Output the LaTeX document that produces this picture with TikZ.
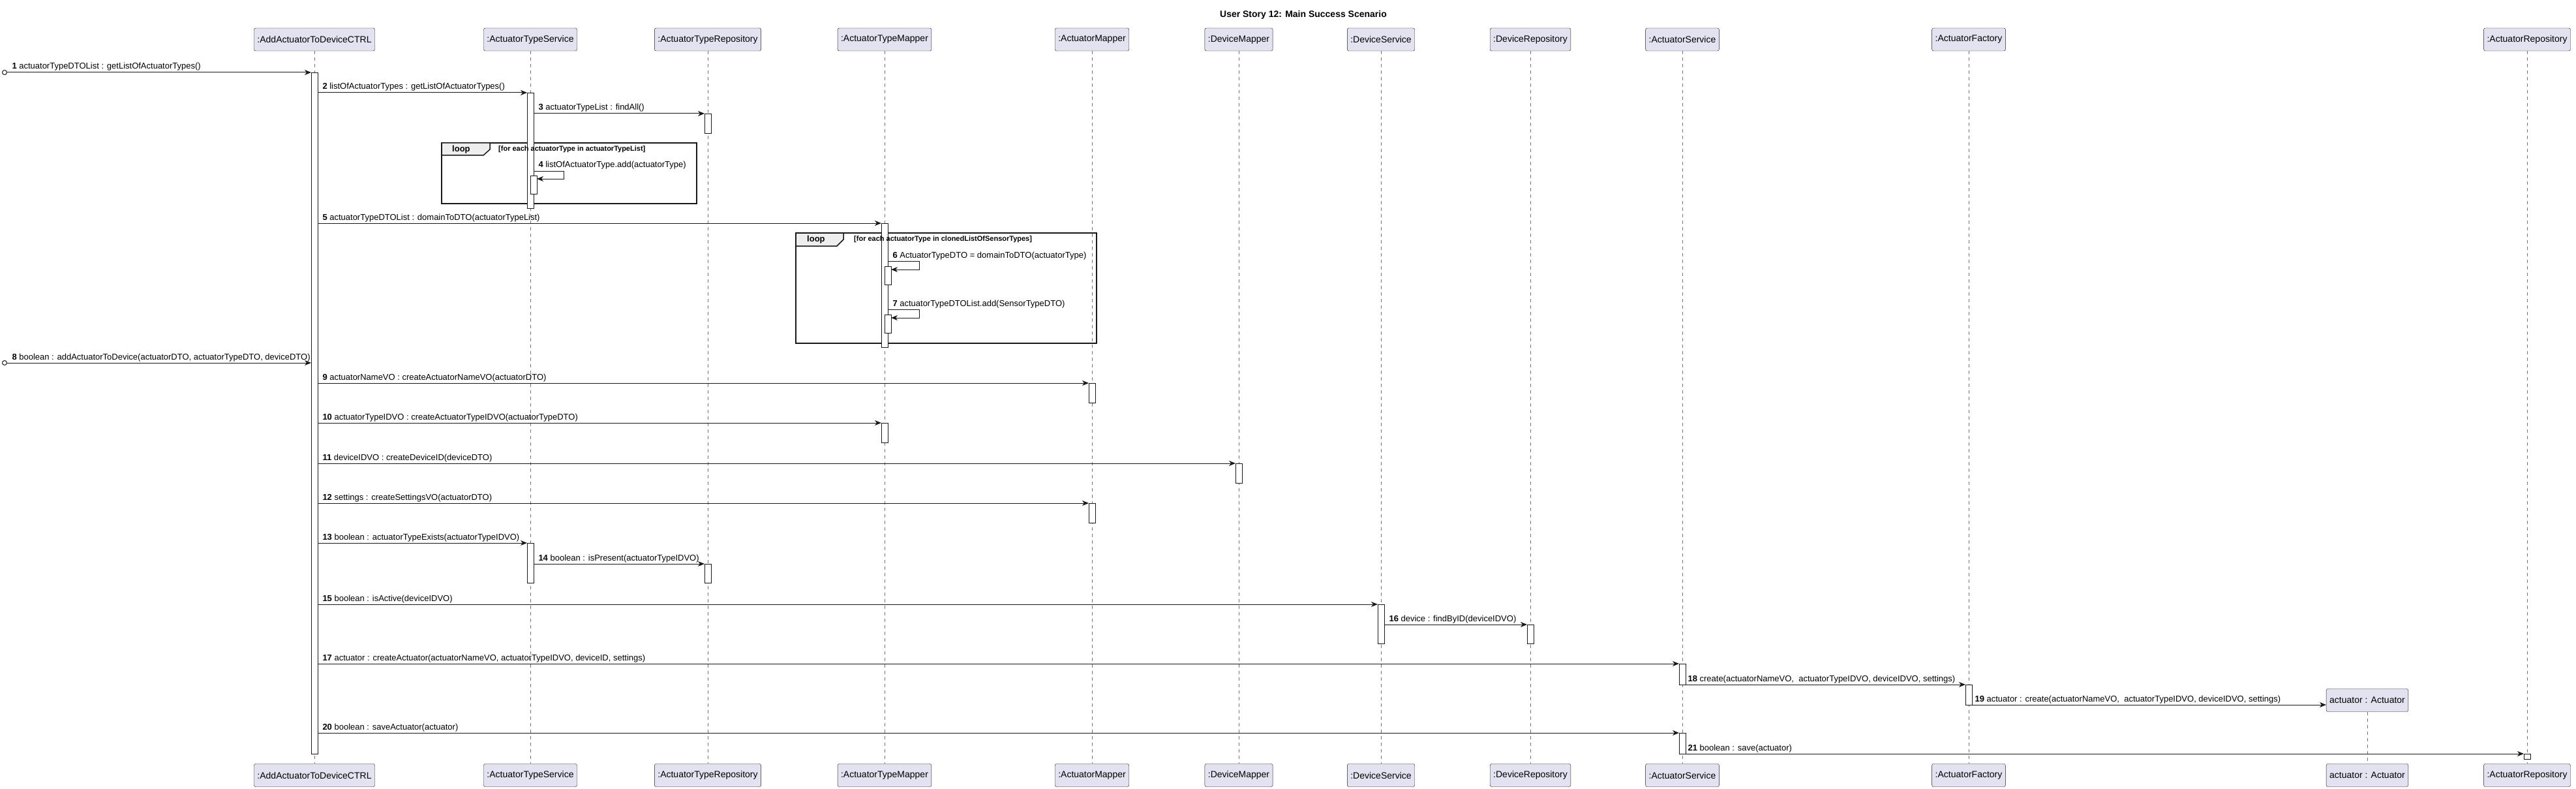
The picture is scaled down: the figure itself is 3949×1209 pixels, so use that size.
\documentclass[tikz,border=0pt]{standalone}
\usepackage{fontspec}
\setmainfont{Liberation Sans}
\usetikzlibrary{arrows.meta}
\definecolor{partfill}{HTML}{E2E2F0}
\definecolor{partline}{HTML}{181818}
\definecolor{tabfill}{HTML}{EEEEEE}
\newcommand{\actbox}[4]{\node at (#2,{(#3+#4)/2}) [act,minimum height={#4-#3}] (#1) {};}

\begin{document}
\begin{tikzpicture}[x=1pt,y=-1pt,
  part/.style={draw=partline,fill=partfill,rounded corners=2.5pt,minimum height=35pt,inner xsep=5pt,font=\fontsize{14}{16}\selectfont},
  life/.style={draw=partline!60,dash pattern=on 5pt off 5pt,line width=0.6pt},
  act/.style={draw=partline,fill=white,minimum width=10pt,inner sep=0pt,outer sep=0pt},
  msg/.style={draw=partline,line width=1pt,-{Stealth[length=10pt,width=8pt,inset=3pt]}},
  lbl/.style={anchor=base west,xshift=7pt,yshift=5pt,inner sep=0pt,font=\fontsize{13}{15}\selectfont},
  found/.style={draw=partline,circle,inner sep=0pt,minimum size=7pt,line width=1pt},
  frame/.style={draw=partline,line width=1.5pt},
  kw/.style={anchor=west,inner sep=0pt,font=\bfseries\fontsize{13}{15}\selectfont},
  guard/.style={anchor=west,inner sep=0pt,font=\bfseries\fontsize{11}{13}\selectfont}]
  \useasboundingbox (0,0) rectangle (3949,1209);

  \node at (1998,23) [font=\bfseries\fontsize{14}{16}\selectfont] (title) {User Story 12: Main Success Scenario};

  \node at (482,60.5) [part] (ctrlT) {:AddActuatorToDeviceCTRL};
  \node at (813,60.5) [part] (atsT) {:ActuatorTypeService};
  \node at (1085,60.5) [part] (atrT) {:ActuatorTypeRepository};
  \node at (1356,60.5) [part] (atmT) {:ActuatorTypeMapper};
  \node at (1674,60.5) [part] (amT) {:ActuatorMapper};
  \node at (1899,60.5) [part] (dmT) {:DeviceMapper};
  \node at (2117,60.5) [part] (dsT) {:DeviceService};
  \node at (2346,60.5) [part] (drT) {:DeviceRepository};
  \node at (2579,60.5) [part] (asT) {:ActuatorService};
  \node at (3018,60.5) [part] (afT) {:ActuatorFactory};
  \node at (3629,1073) [part] (actT) {actuator : Actuator};
  \node at (3874,60.5) [part] (arT) {:ActuatorRepository};

  \node at (482,1188) [part] (ctrlB) {:AddActuatorToDeviceCTRL};
  \node at (813,1188) [part] (atsB) {:ActuatorTypeService};
  \node at (1085,1188) [part] (atrB) {:ActuatorTypeRepository};
  \node at (1356,1188) [part] (atmB) {:ActuatorTypeMapper};
  \node at (1674,1188) [part] (amB) {:ActuatorMapper};
  \node at (1899,1188) [part] (dmB) {:DeviceMapper};
  \node at (2117,1188) [part] (dsB) {:DeviceService};
  \node at (2346,1188) [part] (drB) {:DeviceRepository};
  \node at (2579,1188) [part] (asB) {:ActuatorService};
  \node at (3018,1188) [part] (afB) {:ActuatorFactory};
  \node at (3629,1188) [part] (actB) {actuator : Actuator};
  \node at (3874,1188) [part] (arB) {:ActuatorRepository};

  \draw[life] (ctrlT) -- (ctrlB);
  \draw[life] (atsT) -- (atsB);
  \draw[life] (atrT) -- (atrB);
  \draw[life] (atmT) -- (atmB);
  \draw[life] (amT) -- (amB);
  \draw[life] (dmT) -- (dmB);
  \draw[life] (dsT) -- (dsB);
  \draw[life] (drT) -- (drB);
  \draw[life] (asT) -- (asB);
  \draw[life] (afT) -- (afB);
  \draw[life] (actT) -- (actB);
  \draw[life] (arT) -- (arB);

  \draw[frame] (677,219) rectangle (1068,312);
  \draw[frame,fill=tabfill] (677,219) -- (751,219) -- (751,229) -- (741,238) -- (677,238) -- cycle;
  \node at (693,229) [kw] (loopA) {loop};

  \draw[frame] (1220,357) rectangle (1681,526);
  \draw[frame,fill=tabfill] (1220,357) -- (1293,357) -- (1293,367) -- (1283,377) -- (1220,377) -- cycle;
  \node at (1237,367) [kw] (loopB) {loop};

  \actbox{aCtrl}{482}{111}{1155}
  \actbox{aAts}{813}{142}{319}
  \actbox{aAtr}{1085}{174}{204}
  \actbox{aAtsIn}{818}{269}{297}
  \actbox{aAtm}{1356}{342}{532}
  \actbox{aAtmA}{1361}{408}{436}
  \actbox{aAtmB}{1361}{482}{510}
  \actbox{aAmA}{1674}{587}{617}
  \actbox{aAtmC}{1356}{648}{678}
  \actbox{aDm}{1899}{710}{740}
  \actbox{aAmB}{1674}{771}{801}
  \actbox{aAtsB}{813}{832}{893}
  \actbox{aAtrB}{1085}{864}{893}
  \actbox{aDs}{2117}{926}{986}
  \actbox{aDr}{2346}{957}{986}
  \actbox{aAsA}{2579}{1017}{1049}
  \actbox{aAf}{3018}{1049}{1080}
  \actbox{aAsB}{2579}{1123}{1155}
  \actbox{aAr}{3874}{1155}{1163}

  \node at (764,229) [guard] (guardA) {[for each actuatorType in actuatorTypeList]};
  \node at (1309,367) [guard] (guardB) {[for each actuatorType in clonedListOfSensorTypes]};

  \node at (7,111) [found] (f1) {};
  \node at (7,556) [found] (f8) {};

  \draw[msg] (f1) -- (aCtrl.north west) node[lbl,pos=0] {\textbf{1} actuatorTypeDTOList : getListOfActuatorTypes()};
  \draw[msg] (aCtrl.east |- aAts.north) -- (aAts.north west) node[lbl,pos=0] {\textbf{2} listOfActuatorTypes : getListOfActuatorTypes()};
  \draw[msg] (aAts.east |- aAtr.north) -- (aAtr.north west) node[lbl,pos=0] {\textbf{3} actuatorTypeList : findAll()};
  \draw[msg] (aAts.east |- 0,262) node[lbl] {\textbf{4} listOfActuatorType.add(actuatorType)} -- (864,262) -- (864,274) -- (aAtsIn.east |- 0,274);
  \draw[msg] (aCtrl.east |- aAtm.north) -- (aAtm.north west) node[lbl,pos=0] {\textbf{5} actuatorTypeDTOList : domainToDTO(actuatorTypeList)};
  \draw[msg] (aAtm.east |- 0,400) node[lbl] {\textbf{6} ActuatorTypeDTO = domainToDTO(actuatorType)} -- (1409,400) -- (1409,413) -- (aAtmA.east |- 0,413);
  \draw[msg] (aAtm.east |- 0,474) node[lbl] {\textbf{7} actuatorTypeDTOList.add(SensorTypeDTO)} -- (1409,474) -- (1409,487) -- (aAtmB.east |- 0,487);
  \draw[msg] (f8) -- (aCtrl.west |- f8) node[lbl,pos=0] {\textbf{8} boolean : addActuatorToDevice(actuatorDTO, actuatorTypeDTO, deviceDTO)};
  \draw[msg] (aCtrl.east |- aAmA.north) -- (aAmA.north west) node[lbl,pos=0] {\textbf{9} actuatorNameVO : createActuatorNameVO(actuatorDTO)};
  \draw[msg] (aCtrl.east |- aAtmC.north) -- (aAtmC.north west) node[lbl,pos=0] {\textbf{10} actuatorTypeIDVO : createActuatorTypeIDVO(actuatorTypeDTO)};
  \draw[msg] (aCtrl.east |- aDm.north) -- (aDm.north west) node[lbl,pos=0] {\textbf{11} deviceIDVO : createDeviceID(deviceDTO)};
  \draw[msg] (aCtrl.east |- aAmB.north) -- (aAmB.north west) node[lbl,pos=0] {\textbf{12} settings : createSettingsVO(actuatorDTO)};
  \draw[msg] (aCtrl.east |- aAtsB.north) -- (aAtsB.north west) node[lbl,pos=0] {\textbf{13} boolean : actuatorTypeExists(actuatorTypeIDVO)};
  \draw[msg] (aAtsB.east |- aAtrB.north) -- (aAtrB.north west) node[lbl,pos=0] {\textbf{14} boolean : isPresent(actuatorTypeIDVO)};
  \draw[msg] (aCtrl.east |- aDs.north) -- (aDs.north west) node[lbl,pos=0] {\textbf{15} boolean : isActive(deviceIDVO)};
  \draw[msg] (aDs.east |- aDr.north) -- (aDr.north west) node[lbl,pos=0] {\textbf{16} device : findByID(deviceIDVO)};
  \draw[msg] (aCtrl.east |- aAsA.north) -- (aAsA.north west) node[lbl,pos=0] {\textbf{17} actuator : createActuator(actuatorNameVO, actuatorTypeIDVO, deviceID, settings)};
  \draw[msg] (aAsA.south east) -- (aAf.north west) node[lbl,pos=0,xshift=-4pt] {\textbf{18} create(actuatorNameVO,~ actuatorTypeIDVO, deviceIDVO, settings)};
  \draw[msg] (aAf.south east) -- (actT.west |- aAf.south) node[lbl,pos=0,xshift=-3pt] {\textbf{19} actuator : create(actuatorNameVO,~ actuatorTypeIDVO, deviceIDVO, settings)};
  \draw[msg] (aCtrl.east |- aAsB.north) -- (aAsB.north west) node[lbl,pos=0] {\textbf{20} boolean : saveActuator(actuator)};
  \draw[msg] (aAsB.south east) -- (aAr.north west) node[lbl,pos=0,xshift=-4pt] {\textbf{21} boolean : save(actuator)};
\end{tikzpicture}
\end{document}
